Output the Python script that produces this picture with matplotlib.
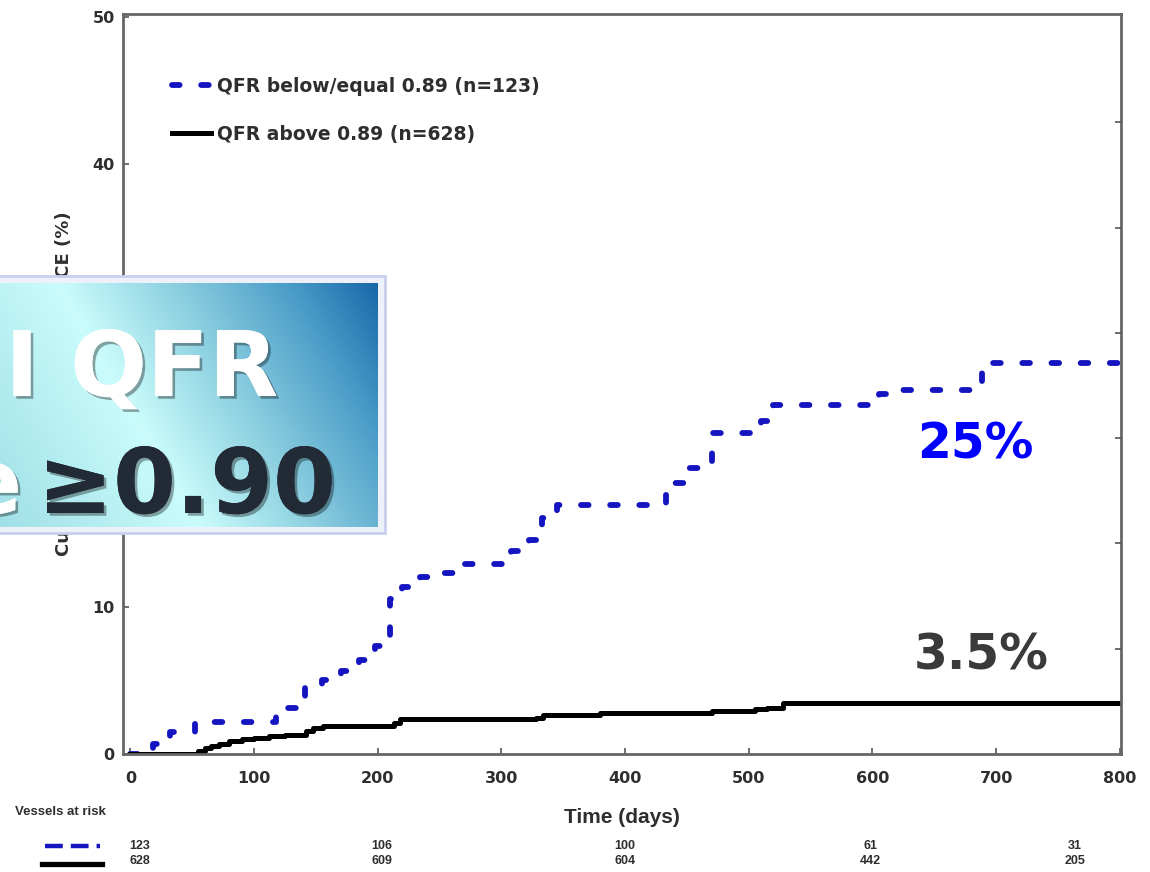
import numpy as np
import matplotlib.pyplot as plt
import matplotlib.patheffects as pe
from matplotlib.colors import LinearSegmentedColormap
from matplotlib.patches import Rectangle
from matplotlib.lines import Line2D

W, H = 1150, 872

# values (days, cumulative VOCE %)
blue_days = [0, 18, 32, 52, 118, 141, 155, 170, 185, 198, 210, 220, 234, 252, 268,
             308, 322, 333, 345, 433, 452, 470, 510, 520, 605, 612, 689, 800]
blue_pct = [0, 0.7, 1.5, 2.2, 3.1, 4.6, 5.0, 5.6, 6.4, 7.3, 10.5, 11.3, 12.0, 12.3, 12.9,
            13.8, 14.5, 16.0, 16.9, 18.4, 19.4, 21.8, 22.6, 23.7, 24.4, 24.7, 26.5, 26.5]
black_days = [0, 55, 60, 65, 72, 80, 90, 100, 112, 125, 142, 148, 156, 213, 218,
              328, 334, 380, 470, 505, 515, 528, 800]
black_pct = [0, 0.2, 0.4, 0.55, 0.7, 0.85, 1.0, 1.1, 1.2, 1.3, 1.55, 1.75, 1.9, 2.1, 2.35,
             2.45, 2.65, 2.8, 2.9, 3.05, 3.15, 3.45, 3.45]

labels = ['QFR below/equal 0.89 (n=123)', 'QFR above 0.89 (n=628)']
risk_blue = [123, 106, 100, 61, 31]
risk_black = [628, 609, 604, 442, 205]
risk_cols = [137, 382, 625, 870, 1075]   # pixel columns of the at-risk table
xticks = [0, 100, 200, 300, 400, 500, 600, 700, 800]
yticks = [0, 10, 20, 30, 40, 50]

BLUE = '#1414c0'
TXT = '#2e2e2e'


def fx(x):
    return x / W


def fy(y):
    return 1 - y / H


fig = plt.figure(figsize=(W / 100, H / 100), dpi=100)
fig.patch.set_facecolor('white')
ax = fig.add_axes([fx(123), fy(754), fx(1121) - fx(123), fy(14) - fy(754)])

ax.step(blue_days, blue_pct, where='post', color=BLUE, lw=4.2,
        dashes=(1.3, 3.7), dash_capstyle='round', label=labels[0])
ax.step(black_days, black_pct, where='post', color='black', lw=3.6, label=labels[1])

ax.set_xlim(-6, 801)
ax.set_ylim(0, 50.2)
ax.set_xticks(xticks)
ax.set_yticks(yticks)
ax.tick_params(direction='in', length=4, width=1.2, colors='#555555',
               labelcolor=TXT, labelsize=11.5)
ax.tick_params(axis='x', pad=12)
ax.tick_params(axis='y', pad=6)
for t in ax.get_xticklabels() + ax.get_yticklabels():
    t.set_fontweight('bold')
for s in ax.spines.values():
    s.set_color('#666666')
    s.set_linewidth(2)

ax2 = ax.twinx()
ax2.set_ylim(0, 50.2)
ax2.set_yticks(np.arange(1, 7) * 50 / 7)
ax2.tick_params(direction='in', length=4, width=1.2, colors='#555555', labelright=False)
for s in ax2.spines.values():
    s.set_visible(False)

ax.set_ylabel('Cumulative incidence of VOCE (%)', fontsize=13, fontweight='bold',
              color=TXT, labelpad=14)
ax.set_xlabel('Time (days)', fontsize=15, fontweight='bold', color=TXT,
              family=['Liberation Sans', 'DejaVu Sans'], labelpad=16)

leg = ax.legend(loc='upper left', bbox_to_anchor=(0.049, 0.915), frameon=False,
                handlelength=2.1, handletextpad=0.3, labelspacing=1.55,
                borderpad=0, borderaxespad=0,
                prop={'size': 13.5, 'weight': 'bold'})
for t in leg.get_texts():
    t.set_color(TXT)

ax.text(683, 21.0, '25%', color='#0000ff', fontsize=35, fontweight='bold',
        ha='center', va='center')
ax.text(688, 6.7, '3.5%', color='#3a3a3a', fontsize=35, fontweight='bold',
        ha='center', va='center')

# at-risk table
narrow = ['Liberation Sans', 'DejaVu Sans']
fig.text(fx(15), fy(812), 'Vessels at risk', fontsize=9.5, fontweight='bold',
         color=TXT, family=narrow, va='center')
fig.add_artist(Line2D([fx(45), fx(100)], [fy(846), fy(846)], color=BLUE, lw=3.2,
                      dashes=(4, 1.8)))
fig.add_artist(Line2D([fx(42), fx(102)], [fy(864), fy(864)], color='black', lw=3.8))
for i in range(len(risk_cols)):
    ha = 'left' if i == 0 else 'center'
    x0 = risk_cols[i] - 8 if i == 0 else risk_cols[i]
    fig.text(fx(x0), fy(846), str(risk_blue[i]), fontsize=9, fontweight='bold',
             color=TXT, family=narrow, ha=ha, va='center')
    fig.text(fx(x0), fy(861), str(risk_black[i]), fontsize=9, fontweight='bold',
             color=TXT, family=narrow, ha=ha, va='center')

# overlaid title box
fig.add_artist(Rectangle((fx(-5), fy(533)), fx(390), fy(276) - fy(533),
                         transform=fig.transFigure, facecolor='#eef1fa',
                         edgecolor='#c8d0ee', lw=2, zorder=5))
bx = fig.add_axes([0, fy(527), fx(378), fy(283) - fy(527)])
bx.set_zorder(6)
bx.set_axis_off()
px, py = np.meshgrid(np.arange(378), np.arange(244))
d = ((px - 57) * 244 - py * 143) / 282.8
tt = (d + 175) / (280 + 175)
cmap = LinearSegmentedColormap.from_list('box', [
    (0.0, '#9fdfe6'), (0.385, '#cafcfc'), (0.6, '#8dd0e0'),
    (0.82, '#4b9dc8'), (1.0, '#1565a8')])
bx.imshow(tt, cmap=cmap, vmin=0, vmax=1, aspect='auto', interpolation='bilinear')

shadow = [pe.withSimplePatchShadow(offset=(2, -2), shadow_rgbFace='black', alpha=0.35),
          pe.Normal()]
fig.text(fx(278), fy(396), 'I QFR', fontsize=65, fontweight='bold', color='white',
         ha='right', va='baseline', path_effects=shadow, zorder=8)
fig.text(fx(336), fy(513), '≥0.90', fontsize=65, fontweight='bold', color='#222a36',
         ha='right', va='baseline', path_effects=shadow, zorder=8)
fig.text(fx(22), fy(513), 'e', fontsize=65, fontweight='bold', color='white',
         ha='right', va='baseline', path_effects=shadow, zorder=8)

fig.savefig('out.png', dpi=100)
